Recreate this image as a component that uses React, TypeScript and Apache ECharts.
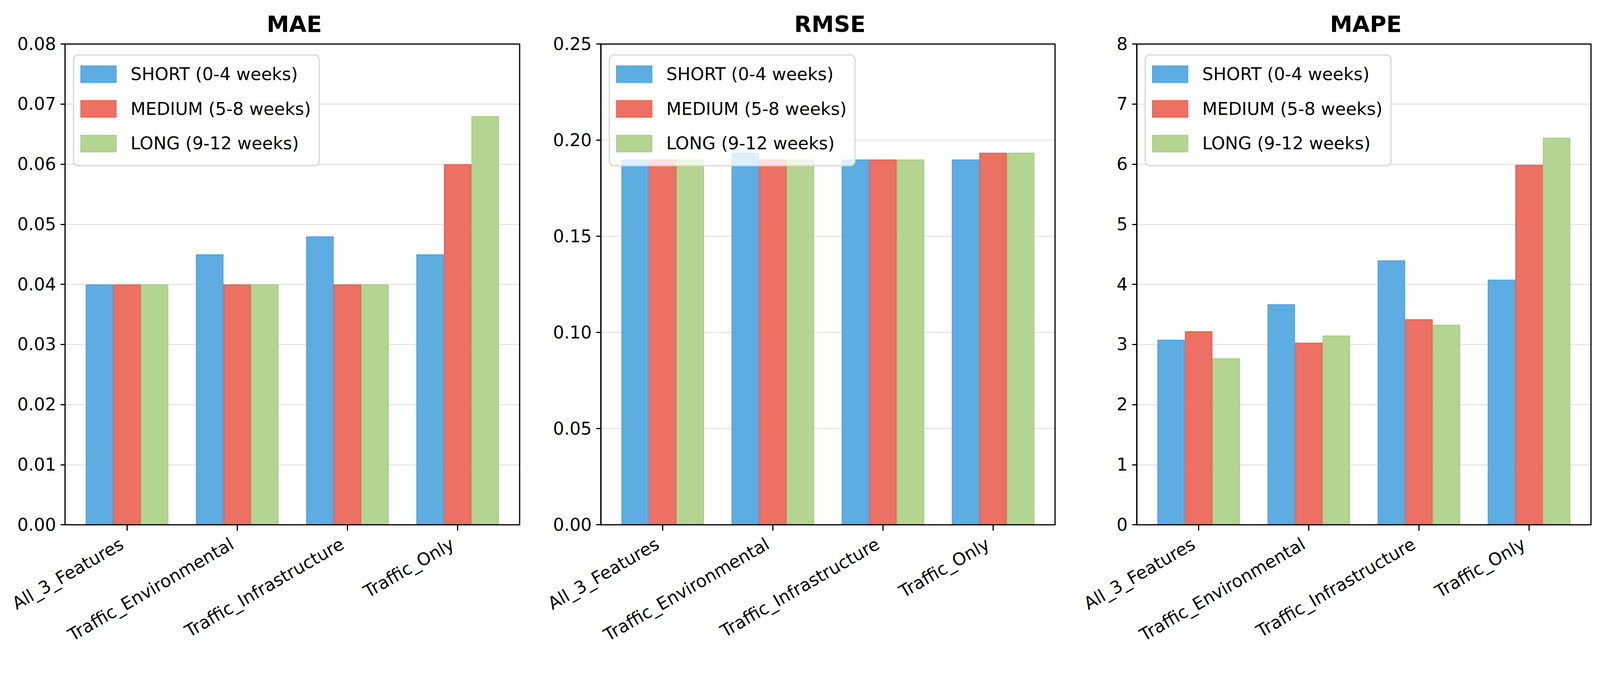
import React, { useEffect, useRef } from 'react';
import * as echarts from 'echarts';

const categories = ['All_3_Features', 'Traffic_Environmental', 'Traffic_Infrastructure', 'Traffic_Only'];
const seriesNames = ['SHORT (0-4 weeks)', 'MEDIUM (5-8 weeks)', 'LONG (9-12 weeks)'];

const maeShort = [0.040, 0.045, 0.048, 0.045];
const maeMedium = [0.040, 0.040, 0.040, 0.060];
const maeLong = [0.040, 0.040, 0.040, 0.068];

const rmseShort = [0.190, 0.1935, 0.190, 0.190];
const rmseMedium = [0.190, 0.190, 0.190, 0.1935];
const rmseLong = [0.190, 0.190, 0.190, 0.1935];

const mapeShort = [3.08, 3.67, 4.40, 4.08];
const mapeMedium = [3.22, 3.03, 3.42, 5.99];
const mapeLong = [2.77, 3.15, 3.33, 6.44];

const panelTitles = ['MAE', 'RMSE', 'MAPE'];
const yMax = [0.08, 0.25, 8];
const yInterval = [0.01, 0.05, 1];
const yDecimals = [2, 2, 0];

const FONT = 'DejaVu Sans';
const fills = ['#5DADE2', '#EC7063', '#B4D491'];
const edges = ['#4aa3de', '#e65f51', '#a6cd84'];

// reference canvas size
const REF_W = 5329;
const REF_H = 1768;

export default function App() {
  const ref = useRef<HTMLDivElement>(null);

  useEffect(() => {
    const el = ref.current;
    if (!el) return;
    const chart = echarts.init(el, undefined, { renderer: 'svg' });
    const W = el.clientWidth || REF_W;
    const H = el.clientHeight || REF_H;
    const sx = W / REF_W;
    const sy = H / REF_H;
    const fs = Math.min(sx, sy);

    const panelData = [
      [maeShort, maeMedium, maeLong],
      [rmseShort, rmseMedium, rmseLong],
      [mapeShort, mapeMedium, mapeLong],
    ];
    const frames = [
      { left: 216.7, width: 1514 },
      { left: 2001, width: 1513 },
      { left: 3786, width: 1513 },
    ];
    const top = 112.7 * sy;
    const height = 1230 * sy;

    const tickFont = 58 * fs;
    const h = tickFont;
    const labelPad = 0.336 * h;
    const labelMargin = 29.6 * sy + 0.194 * h;

    const grid: any[] = [];
    const xAxis: any[] = [];
    const yAxis: any[] = [];
    const series: any[] = [];
    const legend: any[] = [];
    const title: any[] = [];

    frames.forEach((f, i) => {
      const left = f.left * sx;
      const width = f.width * sx;
      const inset = (width * 0.0625) / 4.125;
      grid.push({
        left, top, width, height, z: 5,
        show: true, borderColor: '#000', borderWidth: 3, backgroundColor: 'transparent',
      });
      grid.push({ left: left + inset, top, width: width - 2 * inset, height });

      xAxis.push({ gridIndex: 2 * i, type: 'value', min: 0, max: 1, show: false });
      xAxis.push({
        gridIndex: 2 * i + 1,
        type: 'category',
        data: categories,
        boundaryGap: true,
        axisLine: { show: false },
        axisTick: { show: true, alignWithLabel: true, length: 15 * sy, lineStyle: { color: '#000', width: 3 } },
        axisLabel: {
          rotate: 30, interval: 0, margin: labelMargin, fontSize: tickFont, color: '#000', fontFamily: FONT,
          align: 'right', verticalAlign: 'middle', padding: [0, labelPad, 0, 0], hideOverlap: false,
        },
        splitLine: { show: false },
      });

      const dec = yDecimals[i];
      yAxis.push({
        gridIndex: 2 * i,
        type: 'value',
        min: 0,
        max: yMax[i],
        interval: yInterval[i],
        axisLine: { show: true, lineStyle: { color: '#000', width: 3 } },
        axisTick: { show: true, length: 15 * sx, lineStyle: { color: '#000', width: 3 } },
        axisLabel: {
          margin: 30 * sx, fontSize: tickFont, color: '#000', fontFamily: FONT,
          formatter: (v: number) => v.toFixed(dec),
        },
        splitLine: { show: true, lineStyle: { color: '#e6e6e6', width: 3 } },
      });
      yAxis.push({
        gridIndex: 2 * i + 1, type: 'value', min: 0, max: yMax[i], interval: yInterval[i],
        show: false, splitLine: { show: false },
      });

      panelData[i].forEach((vals, s) => {
        series.push({
          type: 'bar',
          name: seriesNames[s],
          xAxisIndex: 2 * i + 1,
          yAxisIndex: 2 * i + 1,
          data: vals,
          barGap: '0%',
          barCategoryGap: '25%',
          itemStyle: { color: fills[s], borderColor: edges[s], borderWidth: 2.5 },
        });
      });

      const itemH = 42.7 * sy;
      legend.push({
        orient: 'vertical',
        left: (f.left + 28.3) * sx,
        top: 140.7 * sy,
        icon: 'rect',
        itemWidth: 118 * sx,
        itemHeight: itemH,
        itemGap: (86.5 - 42.7) * sy,
        padding: [26.6 * sy, 28 * sx, 34 * sy, 22.7 * sx],
        backgroundColor: 'rgba(255,255,255,0.8)',
        borderColor: '#d6d6d6',
        borderWidth: 3,
        borderRadius: 12,
        selectedMode: false,
        data: seriesNames,
        textStyle: {
          fontSize: tickFont, lineHeight: itemH, color: '#000', fontFamily: FONT,
          padding: [0, 0, 0, 48 * sx - 5],
        },
      });

      const titleFont = 75 * fs;
      // cap centre of reference title at y ~ 60
      const titleTop = 60.3 * sy + 0.3645 * titleFont - 5 - 0.846 * titleFont;
      title.push({
        text: panelTitles[i],
        left: left + width / 2,
        top: titleTop,
        textAlign: 'center',
        textStyle: { fontSize: titleFont, fontWeight: 'bold', color: '#000', fontFamily: FONT },
      });
    });

    chart.setOption({
      animation: false,
      backgroundColor: '#ffffff',
      title,
      legend,
      grid,
      xAxis,
      yAxis,
      series,
    });

    return () => chart.dispose();
  }, []);

  return (
    <div
      ref={ref}
      style={{ position: 'absolute', left: 0, top: 0, width: '100vw', height: '100vh', background: '#fff' }}
    />
  );
}
